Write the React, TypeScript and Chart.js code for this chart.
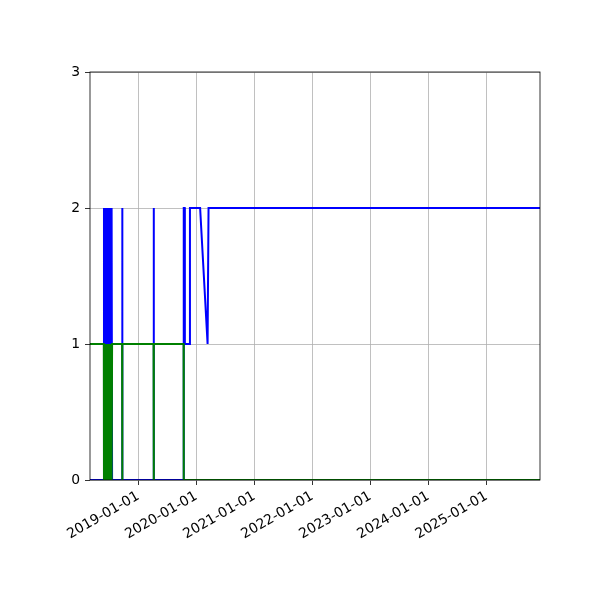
import { useEffect, useRef } from 'react';
import { Chart, registerables } from 'chart.js';

Chart.register(...registerables);

// sample dates (one row per point of both series)
const dates = [
  '2018-03-03', '2018-05-29', '2018-05-30', '2018-06-02', '2018-06-05', '2018-06-08',
  '2018-06-11', '2018-06-14', '2018-06-17', '2018-06-20', '2018-06-23', '2018-06-26',
  '2018-06-29', '2018-07-02', '2018-07-05', '2018-07-08', '2018-07-11', '2018-07-14',
  '2018-07-17', '2018-07-20', '2018-09-21', '2018-09-22', '2018-09-23', '2019-04-07',
  '2019-04-08', '2019-04-09', '2019-10-13', '2019-10-14', '2019-10-20', '2019-10-21',
  '2019-11-21', '2019-11-22', '2020-01-25', '2020-03-12', '2020-03-18', '2025-12-03',
];

const blueValues = [
  0, 0, 2, 0, 2, 0,
  2, 0, 2, 0, 2, 0,
  2, 0, 2, 0, 2, 0,
  2, 0, 0, 2, 0, 0,
  2, 0, 0, 2, 2, 1,
  1, 2, 2, 1, 2, 2,
];

const greenValues = [
  1, 1, 0, 1, 0, 1,
  0, 1, 0, 1, 0, 1,
  0, 1, 0, 1, 0, 1,
  0, 1, 1, 0, 1, 1,
  0, 1, 1, 0, 0, 0,
  0, 0, 0, 0, 0, 0,
];

const yearTicks = ['2019-01-01', '2020-01-01', '2021-01-01', '2022-01-01', '2023-01-01', '2024-01-01', '2025-01-01'];
const yTicks = [0, 1, 2, 3];

const xMin = '2018-03-03';
const xMax = '2025-12-03';

const toMs = (d: string) => Date.parse(d + 'T00:00:00Z');

const framePlugin = {
  id: 'frame',
  afterDatasetsDraw(chart: Chart) {
    const { ctx, chartArea } = chart;
    ctx.save();
    ctx.strokeStyle = '#000000';
    ctx.lineWidth = 0.8;
    ctx.strokeRect(chartArea.left, chartArea.top, chartArea.right - chartArea.left, chartArea.bottom - chartArea.top);
    ctx.restore();
  },
};

const App = () => {
  const canvasRef = useRef<HTMLCanvasElement>(null);

  useEffect(() => {
    document.body.style.margin = '0';
    if (!canvasRef.current) return;

    Chart.defaults.font.family = "'DejaVu Sans', sans-serif";
    Chart.defaults.font.size = 13.9;
    Chart.defaults.color = '#000000';

    const chart = new Chart(canvasRef.current, {
      type: 'line',
      data: {
        datasets: [
          {
            label: 'green',
            data: dates.map((d, i) => ({ x: toMs(d), y: greenValues[i] })),
            borderColor: '#008000',
            backgroundColor: '#008000',
            borderWidth: 2,
            pointRadius: 0,
            tension: 0,
            order: 0,
          },
          {
            label: 'blue',
            data: dates.map((d, i) => ({ x: toMs(d), y: blueValues[i] })),
            borderColor: '#0000ff',
            backgroundColor: '#0000ff',
            borderWidth: 2,
            pointRadius: 0,
            tension: 0,
            order: 1,
          },
        ],
      },
      options: {
        responsive: false,
        animation: false,
        layout: { padding: { left: 50, right: 60, top: 72, bottom: 20 } },
        plugins: { legend: { display: false }, tooltip: { enabled: false } },
        scales: {
          x: {
            type: 'linear',
            min: toMs(xMin),
            max: toMs(xMax),
            afterBuildTicks: (scale: any) => {
              scale.ticks = yearTicks.map((d) => ({ value: toMs(d) }));
            },
            afterFit: (scale: any) => {
              scale.height = 100;
            },
            ticks: {
              autoSkip: false,
              minRotation: 30,
              maxRotation: 30,
              padding: 3,
              callback: (v: any) => new Date(Number(v)).toISOString().slice(0, 10),
            },
            grid: {
              color: '#b0b0b0',
              lineWidth: 0.8,
              tickColor: '#000000',
              tickLength: 5,
              tickWidth: 0.8,
            },
            border: { display: false },
          },
          y: {
            type: 'linear',
            min: 0,
            max: 3,
            afterBuildTicks: (scale: any) => {
              scale.ticks = yTicks.map((v) => ({ value: v }));
            },
            afterFit: (scale: any) => {
              scale.width = 40;
            },
            ticks: { padding: 5 },
            grid: {
              color: '#b0b0b0',
              lineWidth: 0.8,
              tickColor: '#000000',
              tickLength: 5,
              tickWidth: 0.8,
            },
            border: { display: false },
          },
        },
      },
      plugins: [framePlugin],
    });

    return () => {
      chart.destroy();
    };
  }, []);

  return (
    <div style={{ width: 600, height: 600, background: '#ffffff' }}>
      <canvas ref={canvasRef} width={600} height={600} />
    </div>
  );
};

export default App;
